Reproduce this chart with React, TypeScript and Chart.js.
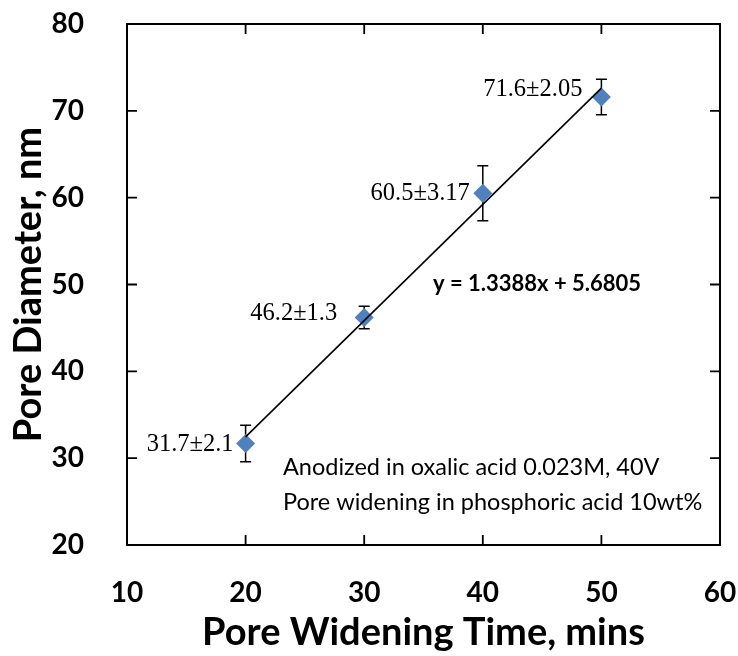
import React, { useEffect, useRef } from "react";
import { Chart, registerables } from "chart.js";
Chart.register(...registerables);

const poreTime = [20, 30, 40, 50];
const poreDiameter = [31.7, 46.2, 60.5, 71.6];
const poreError = [2.1, 1.3, 3.17, 2.05];
const pointLabels = ["31.7±2.1", "46.2±1.3", "60.5±3.17", "71.6±2.05"];
const trendX = [20, 50];
const trendY = [32.4565, 72.6205];
const xTickValues = [10, 20, 30, 40, 50, 60];
const yTickValues = [20, 30, 40, 50, 60, 70, 80];
const equationText = "y = 1.3388x + 5.6805";
const noteLines = ["Anodized in oxalic acid 0.023M, 40V", "Pore widening in phosphoric acid 10wt%"];
const xTitle = "Pore Widening Time, mins";
const yTitle = "Pore Diameter, nm";

const SANS = "Lato, 'Open Sans', sans-serif";

const decorPlugin = {
  id: "decor",
  beforeDatasetsDraw(chart: any) {
    const ctx = chart.ctx;
    const xs = chart.scales.x;
    const ys = chart.scales.y;
    ctx.save();
    ctx.strokeStyle = "#000";
    ctx.lineWidth = 1.5;
    poreTime.forEach((t, i) => {
      const px = xs.getPixelForValue(t);
      const top = ys.getPixelForValue(poreDiameter[i] + poreError[i]);
      const bot = ys.getPixelForValue(poreDiameter[i] - poreError[i]);
      ctx.beginPath();
      ctx.moveTo(px, top);
      ctx.lineTo(px, bot);
      ctx.moveTo(px - 5.5, top);
      ctx.lineTo(px + 5.5, top);
      ctx.moveTo(px - 5.5, bot);
      ctx.lineTo(px + 5.5, bot);
      ctx.stroke();
    });
    ctx.restore();
  },
  afterDraw(chart: any) {
    const ctx = chart.ctx;
    const xs = chart.scales.x;
    const ys = chart.scales.y;
    const a = chart.chartArea;
    ctx.save();
    ctx.strokeStyle = "#000";
    ctx.lineWidth = 2;
    ctx.strokeRect(a.left, a.top, a.right - a.left, a.bottom - a.top);
    ctx.lineWidth = 1.8;
    const tl = 10;
    xTickValues.slice(1, -1).forEach((v) => {
      const px = xs.getPixelForValue(v);
      ctx.beginPath();
      ctx.moveTo(px, a.bottom);
      ctx.lineTo(px, a.bottom - tl);
      ctx.moveTo(px, a.top);
      ctx.lineTo(px, a.top + tl);
      ctx.stroke();
    });
    yTickValues.slice(1, -1).forEach((v) => {
      const py = ys.getPixelForValue(v);
      ctx.beginPath();
      ctx.moveTo(a.left, py);
      ctx.lineTo(a.left + tl, py);
      ctx.moveTo(a.right, py);
      ctx.lineTo(a.right - tl, py);
      ctx.stroke();
    });
    const dx = [-12, -27, -13, -19];
    const dy = [1, -4, 0, -7];
    ctx.fillStyle = "#000";
    ctx.font = "24.5px 'Liberation Serif', 'Times New Roman', serif";
    ctx.textAlign = "right";
    ctx.textBaseline = "middle";
    pointLabels.forEach((lab, i) => {
      const px = xs.getPixelForValue(poreTime[i]);
      const py = ys.getPixelForValue(poreDiameter[i]);
      ctx.fillText(lab, px + dx[i], py + dy[i]);
    });
    ctx.textAlign = "left";
    ctx.font = "bold 22px " + SANS;
    ctx.fillText(equationText, xs.getPixelForValue(35.8), ys.getPixelForValue(50.1));
    ctx.font = "23.5px " + SANS;
    ctx.fillText(noteLines[0], xs.getPixelForValue(23.15), ys.getPixelForValue(28.9));
    ctx.fillText(noteLines[1], xs.getPixelForValue(23.15), ys.getPixelForValue(24.9));
    ctx.restore();
  },
};

const zeroPad = (s: any) => {
  s.paddingLeft = 0;
  s.paddingRight = 0;
  s.paddingTop = 0;
  s.paddingBottom = 0;
};

export default function App() {
  const ref = useRef<HTMLCanvasElement>(null);
  useEffect(() => {
    document.body.style.margin = "0";
    const chart = new Chart(ref.current as HTMLCanvasElement, {
      type: "scatter",
      data: {
        datasets: [
          {
            type: "line",
            data: trendX.map((x, i) => ({ x, y: trendY[i] })),
            borderColor: "#000",
            borderWidth: 1.6,
            pointRadius: 0,
            fill: false,
          } as any,
          {
            data: poreTime.map((x, i) => ({ x, y: poreDiameter[i] })),
            backgroundColor: "#4F81BD",
            borderColor: "#4F81BD",
            pointStyle: "rectRot",
            pointRadius: 9.5,
            borderWidth: 0,
          },
        ],
      },
      options: {
        animation: false,
        responsive: false,
        maintainAspectRatio: false,
        layout: { padding: { left: 0, top: 24, right: 18, bottom: 0 } },
        plugins: { legend: { display: false }, tooltip: { enabled: false } },
        scales: {
          x: {
            type: "linear",
            min: 10,
            max: 60,
            afterBuildTicks: (s: any) => {
              s.ticks = xTickValues.map((v) => ({ value: v }));
            },
            afterFit: (s: any) => {
              s.height = 111;
              zeroPad(s);
            },
            grid: { display: false },
            border: { display: false },
            ticks: {
              padding: 23,
              color: "#000",
              font: { family: SANS, size: 28, weight: "bold" },
            },
            title: {
              display: true,
              text: xTitle,
              color: "#000",
              padding: { top: 0, bottom: 0 },
              font: { family: SANS, size: 38, weight: "bold" },
            },
          },
          y: {
            type: "linear",
            min: 20,
            max: 80,
            afterBuildTicks: (s: any) => {
              s.ticks = yTickValues.map((v) => ({ value: v }));
            },
            afterFit: (s: any) => {
              s.width = 127;
              zeroPad(s);
            },
            grid: { display: false },
            border: { display: false },
            ticks: {
              padding: 35,
              color: "#000",
              font: { family: SANS, size: 28, weight: "bold" },
            },
            title: {
              display: true,
              text: yTitle,
              color: "#000",
              padding: { top: 6, bottom: 0 },
              font: { family: SANS, size: 38, weight: "bold" },
            },
          },
        },
      } as any,
      plugins: [decorPlugin],
    });
    return () => chart.destroy();
  }, []);
  return (
    <div style={{ width: 738, height: 656, background: "#fff" }}>
      <canvas ref={ref} width={738} height={656} style={{ display: "block" }} />
    </div>
  );
}
